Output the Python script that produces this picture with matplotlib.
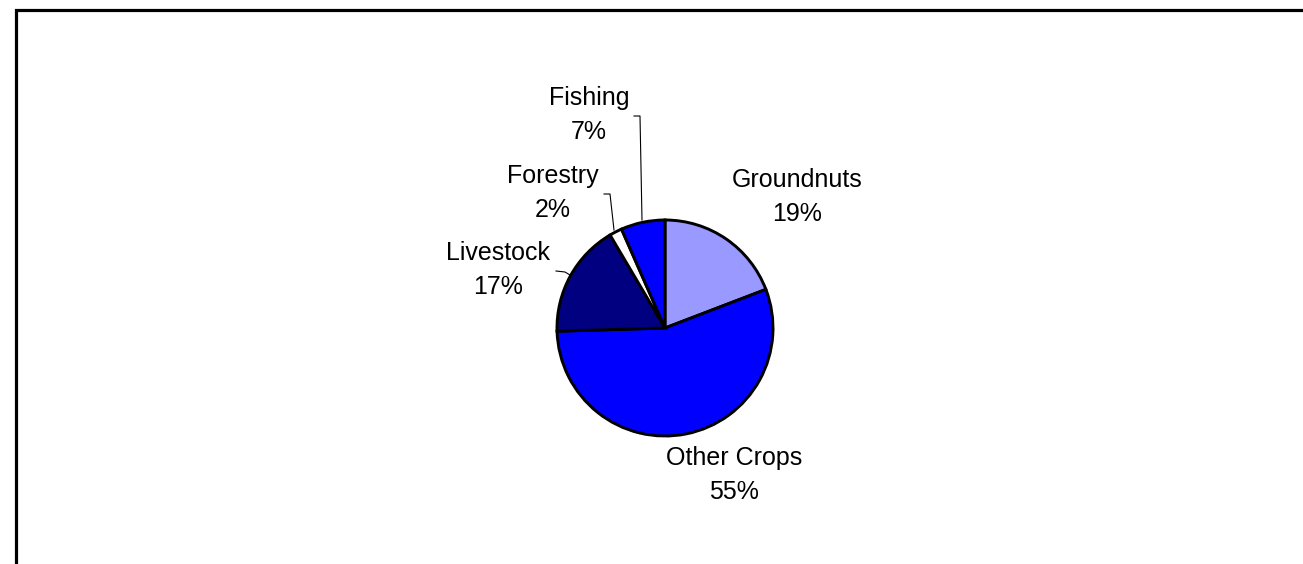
import matplotlib.pyplot as plt

# data
labels = ['Groundnuts', 'Other Crops', 'Livestock', 'Forestry', 'Fishing']
shares = [19.2, 55.4, 17.0, 1.9, 6.6]
colors = ['#9999FF', '#0000FF', '#000080', '#FFFFFF', '#0000FF']

# label layout (pixel coords from top-left)
label_pos = [(797, 197), (734, 475), (498, 270), (553, 193), (589, 115)]
leaders = {
    'Fishing': [(634, 116), (640, 116), (642, 220)],
    'Forestry': [(604, 194), (610, 194), (614, 230)],
    'Livestock': [(556, 271), (565, 272), (570, 275)],
}

W, H = 1303, 564
plt.rcParams['font.family'] = ['Liberation Sans', 'DejaVu Sans']

fig = plt.figure(figsize=(W / 100, H / 100), dpi=100)
ax = fig.add_axes([0, 0, 1, 1])

# outer frame (right and bottom edges are cut off)
ax.plot([16, 16, W + 10], [-10, H - 10, H - 10], color='black', lw=2.3,
        clip_on=False, solid_joinstyle='miter')

cx, cy, r = 665, H - 328, 108
ax.pie(shares, colors=colors, startangle=90, counterclock=False,
       center=(cx, cy), radius=r, frame=True,
       wedgeprops=dict(edgecolor='black', linewidth=2.1))
ax.set_xlim(0, W)
ax.set_ylim(0, H)
ax.set_aspect('equal')
ax.axis('off')

for lab, val, (x, y) in zip(labels, shares, label_pos):
    ax.text(x, H - y, f'{lab}\n{round(val)}%', ha='center', va='center',
            fontsize=18, linespacing=1.5, color='black')

for pts in leaders.values():
    xs = [p[0] for p in pts]
    ys = [H - p[1] for p in pts]
    ax.plot(xs, ys, color='black', lw=0.8)

fig.savefig('out.png', dpi=100, facecolor='white')
